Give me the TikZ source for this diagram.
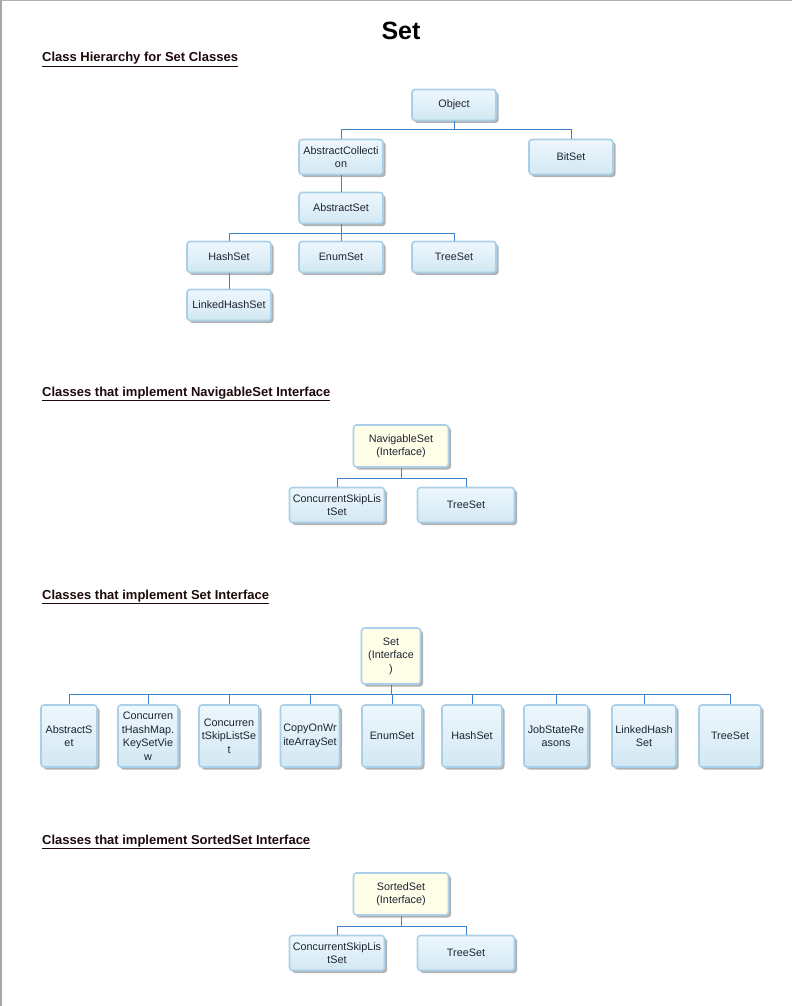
\documentclass[tikz,border=0pt]{standalone}
\usepackage{fontspec}
\setmainfont{Liberation Sans}
\usetikzlibrary{shadows}

\definecolor{boxline}{HTML}{A9D0E8}
\definecolor{boxtop}{HTML}{EEF7FC}
\definecolor{boxbot}{HTML}{D2E8F3}
\definecolor{ifacefill}{HTML}{FFFEE8}
\definecolor{linkblue}{HTML}{3F83CC}
\definecolor{boxtext}{HTML}{1C2433}
\definecolor{headtext}{HTML}{1E0A0A}

\tikzset{
  cls/.style={draw=boxline, line width=1.6pt, rounded corners=3pt,
    top color=boxtop, bottom color=boxbot, align=center,
    font=\fontsize{10.8}{13.5}\selectfont, text=boxtext, inner sep=1pt,
    minimum width=84pt, minimum height=31pt,
    drop shadow={shadow xshift=2.5pt, shadow yshift=-2.5pt, opacity=0.55, fill=black!55}},
  iface/.style={cls, fill=ifacefill, top color=ifacefill, bottom color=ifacefill},
  link/.style={draw=linkblue, line width=0.9pt},
  heading/.style={anchor=base west, font=\bfseries\fontsize{13}{15}\selectfont, text=headtext, inner sep=0pt}
}

\begin{document}
\begin{tikzpicture}[x=1pt, y=-1pt]
	\useasboundingbox (0,0) rectangle (792,1006);
	\fill[white] (0,0) rectangle (792,1006);
	% Page frame
	\fill[black!30] (0,0) rectangle (792,1.5);
	\fill[black!35] (0,0) rectangle (2,1006);
	
	% Title
	\node[font=\bfseries\fontsize{25}{28}\selectfont] (title) at (401,31) {Set};
	
	% Class hierarchy
	\node[heading] (h1) at (42,62) {\underline{Class Hierarchy for Set Classes}};
	\node[cls] (obj) at (454,105) {Object};
	\node[cls, minimum height=35pt] (acoll) at (341,157) {AbstractCollecti\\on};
	\node[cls, minimum height=35pt] (bitset) at (571,157) {BitSet};
	\node[cls] (aset) at (341,208) {AbstractSet};
	\node[cls] (hash) at (229,257) {HashSet};
	\node[cls] (enum) at (341,257) {EnumSet};
	\node[cls] (tree) at (454,257) {TreeSet};
	\node[cls] (lhash) at (229,305) {LinkedHashSet};
	
	\coordinate (b1) at (0,129);
	\coordinate (b2) at (0,233);
	\draw[link] (obj.south) -- (obj.south |- b1) -| (acoll.north);
	\draw[link] (obj.south) -- (obj.south |- b1) -| (bitset.north);
	\draw[link] (acoll) -- (aset);
	\draw[link] (aset.south) -- (aset.south |- b2) -| (hash.north);
	\draw[link] (aset.south) -- (enum.north);
	\draw[link] (aset.south) -- (aset.south |- b2) -| (tree.north);
	\draw[link] (hash) -- (lhash);
	
	% NavigableSet
	\node[heading] (h2) at (42,396) {\underline{Classes that implement NavigableSet Interface}};
	\node[iface, minimum width=95pt, minimum height=42pt] (nav) at (401,446) {NavigableSet\\(Interface)};
	\node[cls, minimum width=95pt, minimum height=35pt] (nskip) at (337,505) {ConcurrentSkipLis\\tSet};
	\node[cls, minimum width=97pt, minimum height=35pt] (ntree) at (466,505) {TreeSet};
	
	\coordinate (b3) at (0,478);
	\draw[link] (nav.south) -- (nav.south |- b3) -| (nskip.north);
	\draw[link] (nav.south) -- (nav.south |- b3) -| (ntree.north);
	
	% Set
	\node[heading] (h3) at (42,599) {\underline{Classes that implement Set Interface}};
	\node[iface, minimum width=59pt, minimum height=56pt] (set) at (391,656) {Set\\(Interface\\)};
	\foreach \nm/\xx/\ww/\txt in {
	    sabs/69/56/{AbstractS\\et},
	    schm/148/60/{Concurren\\tHashMap.\\KeySetVie\\w},
	    sskip/229/60/{Concurren\\tSkipListSe\\t},
	    scow/310/59/{CopyOnWr\\iteArraySet},
	    senum/392/60/{EnumSet},
	    shash/472/60/{HashSet},
	    sjob/556/64/{JobStateRe\\asons},
	    slhash/644/64/{LinkedHash\\Set},
	    stree/730/62/{TreeSet}} {
	  \node[cls, minimum width=\ww pt, minimum height=62pt] (\nm) at (\xx,736) {\txt};
	}
	
	\coordinate (b4) at (0,694);
	\foreach \nm in {sabs,schm,sskip,scow,senum,shash,sjob,slhash,stree}
	  \draw[link] (set.south) -- (set.south |- b4) -| (\nm.north);
	
	% SortedSet
	\node[heading] (h4) at (42,844) {\underline{Classes that implement SortedSet Interface}};
	\node[iface, minimum width=95pt, minimum height=42pt] (sorted) at (401,894) {SortedSet\\(Interface)};
	\node[cls, minimum width=95pt, minimum height=35pt] (oskip) at (337,953) {ConcurrentSkipLis\\tSet};
	\node[cls, minimum width=97pt, minimum height=35pt] (otree) at (466,953) {TreeSet};
	
	\coordinate (b5) at (0,926);
	\draw[link] (sorted.south) -- (sorted.south |- b5) -| (oskip.north);
	\draw[link] (sorted.south) -- (sorted.south |- b5) -| (otree.north);
\end{tikzpicture}
\end{document}
